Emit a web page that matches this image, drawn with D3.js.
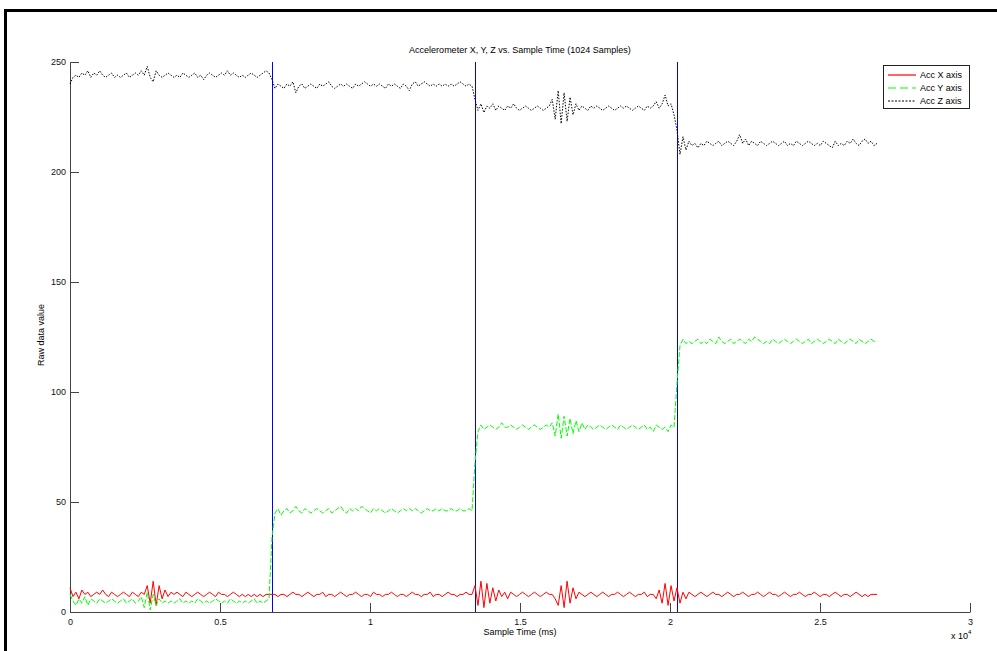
<!DOCTYPE html>
<html><head><meta charset="utf-8">
<script src="https://cdn.jsdelivr.net/npm/d3@7"></script>
<style>body{margin:0;background:#fff;}svg{display:block;font-family:"Liberation Sans",Arial,sans-serif;}</style>
</head><body>
<script>
// ---- data ----
const segmentBounds = [0, 6733, 13500, 20233, 27000];   // sample time (ms) of segment boundaries
const markerTimes = [6733, 13500, 20233];                 // vertical marker lines
const xTicks = [0, 5000, 10000, 15000, 20000, 25000, 30000];
const xTickLabels = ["0", "0.5", "1", "1.5", "2", "2.5", "3"];
const yTicks = [0, 50, 100, 150, 200, 250];
const seriesNames = ["Acc X axis", "Acc Y axis", "Acc Z axis"];

const accX1 = [11,7,9,6,10,8,9,7,8,9,8,10,8,7,9,8,7,8,9,8,7,9,8,7,9,8,12,4,14,3,12,6,10,7,9,8,9,8,7,9,8,7,8,9,8,7,8,9,8,7,9,8,8,7,8,9,8,7,8,7,8,7,8,7,8,7,8,8];
const accX2 = [8,8,7,8,8,7,8,9,8,8,7,8,9,8,7,8,8,9,7,8,8,7,8,9,8,7,8,8,9,8,7,8,8,7,9,8,8,7,8,8,9,8,7,8,8,7,8,9,8,8,7,8,8,9,7,8,8,7,8,9,8,8,7,8,8,9,8,8];
const accX3 = [12,3,14,2,13,4,11,5,10,7,9,6,9,8,7,8,9,8,7,8,9,8,7,8,9,8,8,6,3,12,2,14,4,11,6,9,8,7,8,9,8,7,8,9,8,7,8,8,9,8,7,8,9,8,7,8,8,9,7,8,8,6,10,4,13,3,12,5];
const accX4 = [11,4,9,6,9,8,7,8,9,8,7,8,9,8,8,7,8,9,8,7,8,8,9,8,7,8,8,9,8,7,8,9,8,8,7,8,9,8,7,8,8,9,8,7,8,8,9,8,7,8,8,7,8,9,8,7,8,8,7,8,9,8,7,8,7,8,8,8];

const accY1 = [8,5,3,6,4,7,3,6,5,4,6,5,4,5,6,5,4,5,6,4,5,6,4,5,7,2,9,1,8,3,6,4,5,4,5,4,5,6,4,5,4,5,4,6,5,4,5,4,5,6,5,4,5,4,6,5,4,5,4,5,4,5,6,4,5,4,5,6];
const accY2 = [34,45,47,44,46,47,45,46,48,46,45,47,46,45,46,47,46,45,46,47,45,46,47,48,46,45,47,46,47,46,48,47,46,45,47,46,47,46,45,46,47,46,45,46,47,46,47,46,47,46,45,46,47,46,46,47,46,47,46,46,47,46,46,47,46,46,47,46];
const accY3 = [68,82,85,83,84,85,84,83,84,86,84,84,85,84,83,84,85,84,83,84,85,84,83,84,85,84,86,80,90,79,89,80,88,81,87,82,86,83,85,84,83,84,85,84,83,84,85,84,83,85,84,83,84,85,84,83,84,85,83,84,82,85,84,83,84,82,85,84];
const accY4 = [104,121,124,122,123,122,123,124,122,123,122,124,123,122,125,123,122,123,124,122,123,124,123,122,124,123,125,124,123,122,123,122,124,123,122,123,124,123,122,123,124,123,122,123,124,122,123,124,123,122,123,124,123,122,124,123,122,123,124,123,122,124,123,122,123,124,123,123];

const accZ1 = [240,243,244,243,245,244,246,243,245,244,246,244,243,244,245,243,244,243,244,245,243,244,245,244,246,244,248,243,241,246,244,243,244,245,244,243,244,243,245,244,243,244,245,243,244,242,244,245,244,243,244,245,244,246,244,245,244,243,244,243,244,245,244,243,244,245,246,245];
const accZ2 = [242,238,240,239,238,240,239,241,236,239,240,238,239,240,239,238,240,239,240,241,239,238,239,240,239,240,239,238,240,239,240,241,240,239,240,239,240,239,238,240,239,240,239,238,240,239,237,240,241,239,240,241,240,239,240,239,240,239,240,239,240,239,240,241,240,239,240,239];
const accZ3 = [233,228,231,227,230,229,231,228,230,229,228,230,229,231,229,228,229,230,229,228,229,230,229,228,229,230,233,224,237,222,236,223,234,226,231,228,230,229,228,230,229,230,229,228,229,230,229,228,229,230,229,230,229,228,229,230,229,228,230,229,230,232,229,231,235,230,231,226];
const accZ4 = [219,208,216,210,214,212,213,211,213,212,214,213,212,213,214,212,213,214,213,212,214,217,213,215,212,214,213,212,214,213,212,213,214,213,212,213,214,212,213,212,214,213,212,213,214,213,212,213,212,214,213,212,211,214,212,213,212,214,213,215,213,212,214,215,213,214,212,213];

const colors = ["#ff0000", "#00ff00", "#000000"];
const dashes = [null, "5,2", "1.5,1.5"];

// ---- build series (samples spread evenly over each segment) ----
function build(segs) {
  const out = [];
  segs.forEach((vals, k) => {
    const t0 = segmentBounds[k], t1 = segmentBounds[k + 1];
    const step = (t1 - t0) / vals.length;
    vals.forEach((v, i) => out.push([t0 + i * step, v]));
  });
  return out;
}
const series = [
  build([accX1, accX2, accX3, accX4]),
  build([accY1, accY2, accY3, accY4]),
  build([accZ1, accZ2, accZ3, accZ4])
];

// ---- drawing ----
const W = 997, H = 651;
const L = 70, R = 970, T = 62, B = 612;
const svg = d3.select("body").append("svg").attr("width", W).attr("height", H);

// figure frame
svg.append("path").attr("d", `M5.5,${H} V10.5 H${W}`).attr("fill", "none")
  .attr("stroke", "#000").attr("stroke-width", 3);

const x = d3.scaleLinear().domain([0, 30000]).range([L, R]);
const y = d3.scaleLinear().domain([0, 250]).range([B, T]);

const axisColor = "#444";
const xAxis = svg.append("g").attr("transform", `translate(0,${B})`)
  .call(d3.axisBottom(x).tickValues(xTicks).tickFormat((d, i) => xTickLabels[i]).tickSizeInner(-9).tickSizeOuter(0).tickPadding(5));
const yAxis = svg.append("g").attr("transform", `translate(${L},0)`)
  .call(d3.axisLeft(y).tickValues(yTicks).tickSizeInner(-9).tickSizeOuter(0).tickPadding(4));
[xAxis, yAxis].forEach(g => {
  g.select(".domain").attr("stroke", axisColor);
  g.selectAll(".tick line").attr("stroke", axisColor);
  g.selectAll(".tick text").attr("fill", "#111").style("font-size", "9px")
    .style("font-family", '"Liberation Sans", Arial, sans-serif');
});
xAxis.selectAll(".tick text").attr("dy", "0.9em");

// marker lines (crisp 1px)
svg.append("g").selectAll("line").data(markerTimes).join("line")
  .attr("x1", d => Math.round(x(d)) + 0.5).attr("x2", d => Math.round(x(d)) + 0.5).attr("y1", T).attr("y2", B)
  .attr("stroke", "#0000ff").attr("stroke-width", 1);

// series lines
const line = d3.line().x(d => x(d[0])).y(d => y(d[1]));
series.forEach((s, i) => {
  svg.append("path").datum(s).attr("d", line).attr("fill", "none")
    .attr("stroke", colors[i]).attr("stroke-width", 1)
    .attr("stroke-dasharray", dashes[i]);
});

// title & labels
svg.append("text").attr("x", 520).attr("y", 53).attr("text-anchor", "middle")
  .style("font-size", "9px").text("Accelerometer X, Y, Z vs. Sample Time (1024 Samples)");
svg.append("text").attr("x", 520).attr("y", 635).attr("text-anchor", "middle")
  .style("font-size", "9px").text("Sample Time (ms)");
svg.append("text").attr("transform", "translate(44,335) rotate(-90)").attr("text-anchor", "middle")
  .style("font-size", "9px").text("Raw data value");
const exp = svg.append("text").attr("x", 951).attr("y", 639).style("font-size", "9px");
exp.append("tspan").text("x 10");
exp.append("tspan").attr("dy", -5).style("font-size", "6px").text("4");

// legend
const lg = svg.append("g");
lg.append("rect").attr("x", 883.5).attr("y", 65.5).attr("width", 86).attr("height", 43)
  .attr("fill", "#fff").attr("stroke", "#222").attr("stroke-width", 1);
seriesNames.forEach((n, i) => {
  const yy = 75 + i * 13;
  lg.append("line").attr("x1", 888).attr("x2", 916).attr("y1", yy).attr("y2", yy)
    .attr("stroke", colors[i]).attr("stroke-width", 1.2)
    .attr("stroke-dasharray", i === 1 ? "8,4" : (i === 2 ? "2,1.5" : null));
  lg.append("text").attr("x", 920).attr("y", yy + 3).style("font-size", "9px").text(n);
});
</script>
</body></html>
